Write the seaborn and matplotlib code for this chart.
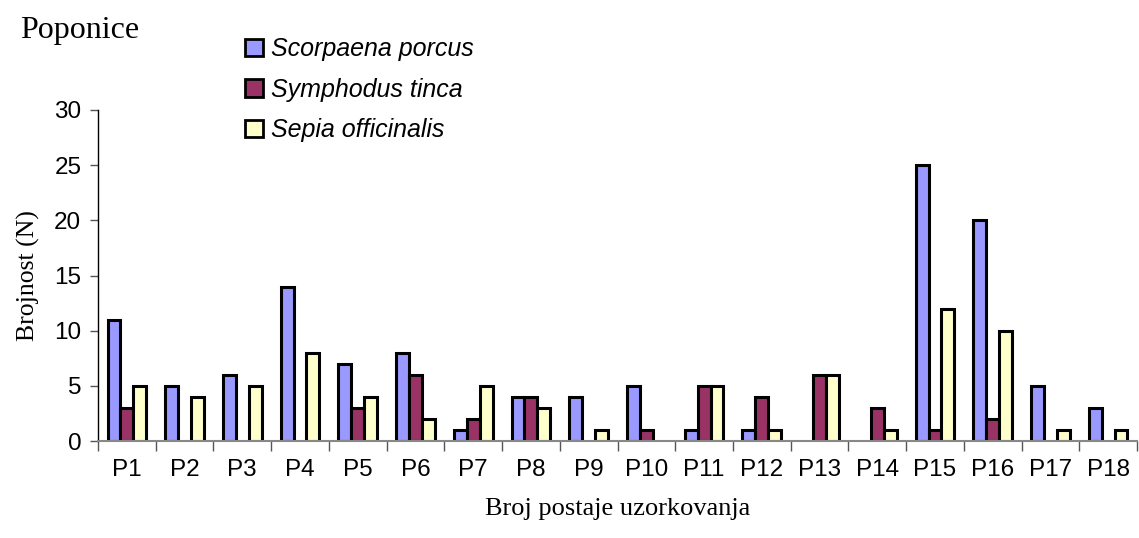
import numpy as np
import pandas as pd
import matplotlib
matplotlib.use("Agg")
import matplotlib.pyplot as plt
import seaborn as sns
from matplotlib.patches import Patch

stations = ["P1", "P2", "P3", "P4", "P5", "P6", "P7", "P8", "P9", "P10",
            "P11", "P12", "P13", "P14", "P15", "P16", "P17", "P18"]
species = ["Scorpaena porcus", "Symphodus tinca", "Sepia officinalis"]
scorpaena = [11, 5, 6, 14, 7, 8, 1, 4, 4, 5, 1, 1, 0, 0, 25, 20, 5, 3]
symphodus = [3, 0, 0, 0, 3, 6, 2, 4, 0, 1, 5, 4, 6, 3, 1, 2, 0, 0]
sepia = [5, 4, 5, 8, 4, 2, 5, 3, 1, 0, 5, 1, 6, 1, 12, 10, 1, 1]
colors = ["#9999FF", "#993366", "#FFFFCC"]

rows = []
for sp, vals in zip(species, [scorpaena, symphodus, sepia]):
    for st, v in zip(stations, vals):
        rows.append({"station": st, "species": sp, "N": v})
df = pd.DataFrame(rows)
df_plot = df[df["N"] > 0]

sns.set_style("white")
plt.rcParams["font.family"] = ["Liberation Sans", "DejaVu Sans"]
plt.rcParams["text.color"] = "black"
plt.rcParams["xtick.color"] = "black"
plt.rcParams["ytick.color"] = "black"
plt.rcParams["axes.labelcolor"] = "black"

fig = plt.figure(figsize=(11.39, 5.38), dpi=100)
ax = fig.add_axes([98 / 1139, 1 - 441 / 538, (1137 - 98) / 1139, (441 - 110) / 538])

sns.barplot(data=df_plot, x="station", y="N", hue="species",
            order=stations, hue_order=species, palette=colors,
            width=0.67, edgecolor="black", linewidth=2.2,
            saturation=1, errorbar=None, legend=False, ax=ax)

ax.set_xlim(-0.5, len(stations) - 0.5)
ax.set_ylim(0, 30)
ax.set_yticks([0, 5, 10, 15, 20, 25, 30])
ax.tick_params(axis="y", labelsize=17.5, length=6, width=1, color="#555555",
               labelcolor="black", direction="out", left=True, pad=6)
ax.tick_params(axis="x", which="major", labelsize=17.5, length=0, pad=13,
               labelcolor="black")
ax.set_xticks(np.arange(-0.5, len(stations), 1.0), minor=True)
ax.tick_params(axis="x", which="minor", length=7, width=1, color="#555555",
               direction="out", bottom=True)

for s in ["top", "right"]:
    ax.spines[s].set_visible(False)
ax.spines["left"].set_color("black")
ax.spines["left"].set_linewidth(1.0)
ax.spines["bottom"].set_color("#888888")
ax.spines["bottom"].set_linewidth(1.5)

ax.set_xlabel("Broj postaje uzorkovanja", fontsize=19,
              fontfamily="Liberation Serif", labelpad=12, color="black")
ax.set_ylabel("Brojnost (N)", fontsize=18.5, fontfamily="Liberation Serif",
              labelpad=10, color="black")

fig.text(20 / 1139, 1 - 38 / 538, "Poponice", fontsize=23,
         fontfamily="Liberation Serif", ha="left", va="baseline", color="black")

handles = [Patch(facecolor=c, edgecolor="black", linewidth=2.0) for c in colors]
leg = fig.legend(handles, species, loc="upper left",
                 bbox_to_anchor=(235 / 1139, 1 - 27 / 538), frameon=False,
                 prop={"size": 18, "style": "italic"},
                 handlelength=0.7, handleheight=0.7, handletextpad=0.35,
                 labelspacing=0.66, borderaxespad=0)
for t in leg.get_texts():
    t.set_color("black")

fig.savefig("out.png", dpi=100)
